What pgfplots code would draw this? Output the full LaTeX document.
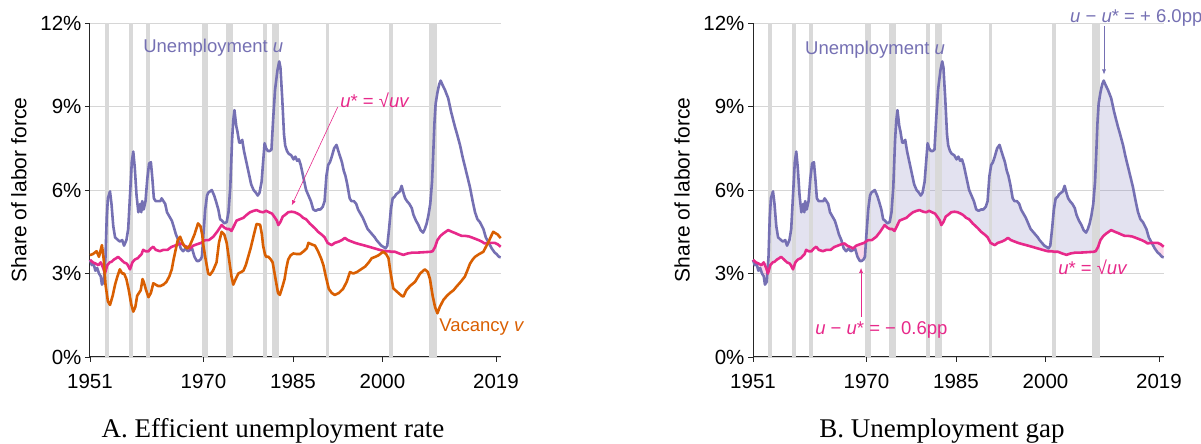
\documentclass[border=0pt]{standalone}
\usepackage{fontspec}
\setmainfont{Liberation Sans}
\newfontfamily\capfont{Liberation Serif}
\usepackage{pgfplots}
\usepackage{pgfplotstable}
\usepgfplotslibrary{fillbetween}
\usetikzlibrary{arrows.meta}
\pgfplotsset{compat=1.18}

\definecolor{upurple}{HTML}{7570B3}
\definecolor{upink}{HTML}{E7298A}
\definecolor{vorange}{HTML}{D95F02}
\definecolor{recess}{HTML}{D9D9D9}

\tikzset{
  ann/.style={anchor=west, inner sep=0pt, font=\fontsize{18.5}{20}\selectfont},
  ser/.style={line width=2.6pt, line join=round},
}

\pgfplotstableread[row sep=\\]{
t y\\
1951.0 3.49\\1951.3 3.3\\1951.6 3.35\\1951.9 3.1\\1952.2 3.2\\1952.5 3.0\\1952.8 2.9\\1953.0 2.6\\1953.3 2.7\\1953.6 3.6\\1953.8 5.0\\1954.0 5.7\\1954.35 5.95\\1954.6 5.5\\1954.9 4.7\\1955.2 4.3\\1955.7 4.2\\1956.0 4.15\\1956.4 4.2\\1956.7 4.0\\1957.1 4.2\\1957.4 4.6\\1957.7 5.8\\1958.0 7.0\\1958.25 7.38\\1958.5 6.8\\1958.8 5.8\\1959.1 5.2\\1959.4 5.5\\1959.6 5.2\\1959.75 5.6\\1960.0 5.3\\1960.3 5.6\\1960.6 6.4\\1960.9 6.95\\1961.2 7.0\\1961.45 6.4\\1961.7 5.7\\1962.0 5.6\\1962.4 5.6\\1962.8 5.6\\1963.0 5.7\\1963.3 5.6\\1963.6 5.5\\1963.9 5.2\\1964.3 5.05\\1964.7 4.9\\1965.0 4.7\\1965.4 4.4\\1965.8 4.2\\1966.2 3.9\\1966.6 3.8\\1967.0 3.9\\1967.4 3.8\\1967.8 3.85\\1968.1 3.9\\1968.5 3.6\\1968.9 3.45\\1969.2 3.45\\1969.5 3.5\\1969.75 3.6\\1970.0 4.4\\1970.3 5.3\\1970.6 5.8\\1970.8 5.9\\1971.1 5.95\\1971.4 6.0\\1971.8 5.8\\1972.1 5.6\\1972.5 5.3\\1972.8 4.95\\1973.1 4.9\\1973.5 4.8\\1973.9 4.85\\1974.2 5.2\\1974.5 6.1\\1974.8 7.8\\1975.0 8.5\\1975.2 8.87\\1975.5 8.3\\1975.7 8.1\\1976.0 7.7\\1976.2 7.7\\1976.5 7.8\\1976.8 7.4\\1977.2 7.0\\1977.6 6.6\\1978.0 6.2\\1978.4 6.0\\1978.8 5.9\\1979.1 5.8\\1979.4 5.9\\1979.75 6.3\\1980.0 7.0\\1980.25 7.68\\1980.5 7.5\\1980.8 7.4\\1981.1 7.4\\1981.4 7.45\\1981.7 8.6\\1982.0 9.6\\1982.4 10.3\\1982.7 10.62\\1982.9 10.4\\1983.2 9.3\\1983.5 8.0\\1983.7 7.6\\1984.0 7.4\\1984.3 7.3\\1984.7 7.25\\1985.1 7.1\\1985.4 7.2\\1985.7 7.05\\1986.0 7.1\\1986.3 6.9\\1986.6 6.6\\1986.9 6.3\\1987.2 6.0\\1987.6 5.8\\1988.0 5.6\\1988.4 5.3\\1988.8 5.25\\1989.2 5.3\\1989.6 5.3\\1990.0 5.4\\1990.3 5.6\\1990.6 6.5\\1990.9 6.9\\1991.2 7.0\\1991.5 7.2\\1991.9 7.5\\1992.3 7.62\\1992.6 7.4\\1992.9 7.2\\1993.2 7.0\\1993.5 6.7\\1993.8 6.5\\1994.1 6.2\\1994.5 5.7\\1994.8 5.6\\1995.2 5.6\\1995.6 5.5\\1995.9 5.3\\1996.3 5.15\\1996.7 5.0\\1997.1 4.8\\1997.5 4.6\\1997.9 4.5\\1998.3 4.4\\1998.7 4.3\\1999.0 4.2\\1999.4 4.1\\1999.8 4.0\\2000.2 3.95\\2000.5 3.9\\2000.8 4.0\\2001.1 4.6\\2001.4 5.3\\2001.7 5.7\\2002.0 5.75\\2002.3 5.85\\2002.6 5.9\\2002.9 5.95\\2003.2 6.15\\2003.5 5.9\\2003.8 5.7\\2004.1 5.6\\2004.5 5.5\\2004.9 5.35\\2005.2 5.1\\2005.6 4.9\\2006.0 4.75\\2006.4 4.55\\2006.8 4.47\\2007.1 4.6\\2007.4 4.8\\2007.7 5.1\\2008.0 5.5\\2008.3 6.3\\2008.5 7.3\\2008.7 8.4\\2008.9 9.1\\2009.2 9.5\\2009.5 9.8\\2009.75 9.93\\2010.0 9.8\\2010.45 9.6\\2011.0 9.3\\2011.5 8.8\\2012.1 8.3\\2012.5 8.0\\2013.0 7.6\\2013.4 7.2\\2013.8 6.85\\2014.2 6.5\\2014.65 6.1\\2015.1 5.6\\2015.5 5.2\\2015.9 4.95\\2016.3 4.85\\2016.9 4.6\\2017.3 4.3\\2017.7 4.14\\2018.3 3.9\\2018.8 3.75\\2019.1 3.7\\2019.5 3.6\\2019.8 3.58\\
}\dataU

\pgfplotstableread[row sep=\\]{
t y\\
1951.0 3.66\\1951.5 3.7\\1952.1 3.8\\1952.5 3.6\\1953.0 4.02\\1953.3 3.5\\1953.6 2.6\\1954.0 2.0\\1954.35 1.87\\1954.8 2.2\\1955.2 2.6\\1955.6 2.9\\1956.0 3.15\\1956.4 3.0\\1956.7 3.0\\1957.1 2.8\\1957.5 2.4\\1957.9 1.9\\1958.25 1.63\\1958.6 1.8\\1958.9 2.2\\1959.2 2.3\\1959.5 2.4\\1959.8 2.8\\1960.0 2.7\\1960.4 2.4\\1960.8 2.15\\1961.2 2.3\\1961.6 2.65\\1962.0 2.6\\1962.4 2.55\\1962.8 2.55\\1963.3 2.6\\1963.8 2.7\\1964.3 2.9\\1964.7 3.15\\1965.0 3.5\\1965.35 3.85\\1965.7 4.2\\1966.1 4.32\\1966.5 4.1\\1966.9 3.96\\1967.3 3.9\\1967.7 4.0\\1968.0 4.14\\1968.5 4.4\\1969.1 4.8\\1969.5 4.7\\1969.8 4.4\\1970.0 4.0\\1970.3 3.6\\1970.8 3.0\\1971.1 2.95\\1971.6 3.1\\1972.2 3.4\\1972.6 4.1\\1973.05 4.5\\1973.5 4.4\\1973.9 4.1\\1974.3 3.5\\1974.7 2.9\\1975.0 2.6\\1975.4 2.8\\1975.85 3.0\\1976.3 3.05\\1976.7 3.1\\1977.1 3.3\\1977.5 3.6\\1977.9 3.9\\1978.35 4.3\\1978.9 4.78\\1979.5 4.75\\1979.8 4.4\\1980.0 4.0\\1980.3 3.7\\1980.5 3.6\\1980.9 3.6\\1981.3 3.5\\1981.6 3.4\\1982.0 2.9\\1982.5 2.3\\1982.8 2.23\\1983.2 2.5\\1983.6 2.8\\1983.9 3.2\\1984.2 3.5\\1984.6 3.65\\1985.05 3.72\\1985.6 3.7\\1986.2 3.7\\1986.8 3.8\\1987.3 3.9\\1987.6 4.1\\1988.1 4.05\\1988.7 4.0\\1989.2 3.8\\1989.7 3.55\\1990.1 3.3\\1990.5 2.9\\1991.0 2.45\\1991.5 2.3\\1992.0 2.23\\1992.7 2.3\\1993.4 2.45\\1994.0 2.7\\1994.55 3.05\\1995.1 3.0\\1995.7 3.05\\1996.4 3.15\\1997.1 3.25\\1997.7 3.4\\1998.2 3.55\\1998.8 3.6\\1999.3 3.65\\2000.1 3.78\\2000.6 3.7\\2001.0 3.55\\2001.3 3.1\\2001.8 2.47\\2002.4 2.35\\2003.2 2.2\\2003.5 2.17\\2004.0 2.4\\2004.6 2.55\\2005.45 2.7\\2006.3 3.0\\2007.1 3.15\\2007.6 3.05\\2007.95 2.8\\2008.4 2.2\\2008.8 1.8\\2009.2 1.57\\2009.6 1.8\\2010.2 2.05\\2010.8 2.2\\2011.3 2.3\\2011.9 2.4\\2012.4 2.53\\2013.1 2.7\\2013.8 2.89\\2014.2 3.1\\2014.65 3.35\\2015.1 3.5\\2015.5 3.6\\2016.2 3.7\\2016.9 3.78\\2017.3 3.95\\2017.7 4.1\\2018.1 4.3\\2018.55 4.5\\2018.9 4.45\\2019.3 4.4\\2019.8 4.27\\
}\dataV

\pgfplotstableread[row sep=\\]{
t y\\
1951.0 3.49\\1951.5 3.4\\1952.0 3.35\\1952.4 3.3\\1952.8 3.4\\1953.2 3.2\\1953.5 3.0\\1953.9 3.3\\1954.3 3.4\\1954.6 3.42\\1955.0 3.5\\1955.4 3.55\\1955.7 3.6\\1956.2 3.5\\1956.7 3.4\\1957.2 3.35\\1957.7 3.15\\1958.1 3.4\\1958.5 3.5\\1959.0 3.55\\1959.65 3.7\\1959.9 3.85\\1960.3 3.8\\1960.8 3.8\\1961.2 3.9\\1961.6 3.96\\1962.0 3.85\\1962.7 3.8\\1963.3 3.85\\1964.0 3.85\\1964.6 3.95\\1965.2 4.0\\1965.8 4.05\\1966.3 4.08\\1966.8 4.0\\1967.3 3.95\\1967.75 3.9\\1968.3 4.0\\1968.9 4.05\\1969.6 4.1\\1970.3 4.2\\1970.9 4.2\\1971.65 4.32\\1972.3 4.5\\1973.05 4.74\\1973.5 4.65\\1973.9 4.6\\1974.3 4.6\\1974.7 4.53\\1975.1 4.7\\1975.55 4.9\\1976.1 4.95\\1976.7 5.0\\1977.2 5.1\\1977.8 5.2\\1978.4 5.25\\1978.9 5.28\\1979.5 5.22\\1980.0 5.2\\1980.5 5.25\\1981.0 5.2\\1981.5 5.15\\1982.0 5.0\\1982.3 4.9\\1982.55 4.74\\1982.9 4.85\\1983.3 5.05\\1983.65 5.1\\1984.2 5.2\\1984.75 5.22\\1985.3 5.2\\1985.8 5.15\\1986.2 5.1\\1986.7 5.0\\1987.2 4.95\\1987.8 4.8\\1988.3 4.7\\1988.7 4.62\\1989.2 4.5\\1989.8 4.4\\1990.3 4.3\\1990.8 4.1\\1991.2 4.05\\1991.5 4.02\\1992.0 4.1\\1992.7 4.15\\1993.2 4.2\\1993.7 4.28\\1994.2 4.2\\1994.8 4.15\\1995.4 4.1\\1996.2 4.05\\1997.1 4.0\\1997.9 3.95\\1998.7 3.9\\1999.5 3.85\\2000.4 3.8\\2001.0 3.8\\2001.5 3.78\\2002.1 3.78\\2002.8 3.72\\2003.5 3.67\\2004.2 3.72\\2005.0 3.75\\2005.8 3.75\\2006.6 3.76\\2007.3 3.77\\2008.0 3.78\\2008.4 3.8\\2008.8 3.95\\2009.2 4.2\\2009.7 4.35\\2010.2 4.44\\2010.6 4.5\\2011.0 4.56\\2011.6 4.5\\2012.2 4.45\\2012.7 4.4\\2013.3 4.35\\2013.9 4.35\\2014.5 4.33\\2014.9 4.3\\2015.5 4.25\\2016.1 4.2\\2016.6 4.15\\2017.1 4.08\\2017.7 4.1\\2018.3 4.1\\2018.8 4.1\\2019.3 4.05\\2019.8 3.96\\
}\dataS

\newcommand{\recessions}{%
\addplot[fill=recess, draw=none, forget plot] coordinates {(1953.5,12) (1954.2,12)} \closedcycle;
\addplot[fill=recess, draw=none, forget plot] coordinates {(1957.6,12) (1958.25,12)} \closedcycle;
\addplot[fill=recess, draw=none, forget plot] coordinates {(1960.3,12) (1961.05,12)} \closedcycle;
\addplot[fill=recess, draw=none, forget plot] coordinates {(1969.8,12) (1970.7,12)} \closedcycle;
\addplot[fill=recess, draw=none, forget plot] coordinates {(1973.8,12) (1974.9,12)} \closedcycle;
\addplot[fill=recess, draw=none, forget plot] coordinates {(1980.0,12) (1980.6,12)} \closedcycle;
\addplot[fill=recess, draw=none, forget plot] coordinates {(1981.55,12) (1982.7,12)} \closedcycle;
\addplot[fill=recess, draw=none, forget plot] coordinates {(1990.5,12) (1991.0,12)} \closedcycle;
\addplot[fill=recess, draw=none, forget plot] coordinates {(2001.1,12) (2001.7,12)} \closedcycle;
\addplot[fill=recess, draw=none, forget plot] coordinates {(2007.8,12) (2009.2,12)} \closedcycle;
}

\pgfplotsset{panel/.style={
  scale only axis, width=410.7pt, height=334pt,
  xmin=1951, xmax=2019.8, ymin=0, ymax=12,
  axis lines=left, axis line style={-, line width=1pt, draw=black!85},
  xtick={1951,1970,1985,2000,2019},
  ytick={0,3,6,9,12},
  /pgf/number format/1000 sep={},
  /pgf/number format/assume math mode=true,
  yticklabel={\pgfmathprintnumber{\tick}\%},
  tick align=outside, major tick length=5pt,
  tick style={black!85, line width=0.8pt},
  ymajorgrids, grid style={draw=black!16, line width=0.8pt},
  ticklabel style={font=\fontsize{20.5}{22}\selectfont},
  xticklabel style={yshift=-9pt},
  ylabel={Share of labor force},
  ylabel style={at={(axis description cs:-0.1729,0.5)}, anchor=center, font=\fontsize{21}{23}\selectfont},
  clip=false,
}}

\begin{document}
\begin{tikzpicture}

% Panel A
\begin{axis}[panel, at={(90pt,87pt)}, anchor=south west]
\recessions
\addplot[ser, upurple] table[x=t, y=y] {\dataU};
\addplot[ser, upink] table[x=t, y=y] {\dataS};
\addplot[ser, vorange] table[x=t, y=y] {\dataV};
\node[ann, text=upurple] at (axis cs:1959.9,11.1) {Unemployment \textit{u}};
\node[ann, text=upink] at (axis cs:1992.9,9.23) {\textit{u}* = √\textit{uv}};
\draw[-{Latex[length=5pt,width=4pt]}, upink, line width=0.6pt] (axis cs:1992.5,8.98) -- (axis cs:1984.8,5.45);
\node[ann, text=vorange] at (axis cs:2009.5,1.08) {Vacancy \textit{v}};
\end{axis}

% Panel B
\begin{axis}[panel, at={(753pt,87pt)}, anchor=south west]
\recessions
\addplot[draw=none, name path=U, forget plot] table[x=t, y=y] {\dataU};
\addplot[draw=none, name path=S, forget plot] table[x=t, y=y] {\dataS};
\addplot[fill=upurple, fill opacity=0.2, draw=none] fill between[of=U and S, soft clip={domain=1953.55:1966.0}];
\addplot[fill=upurple, fill opacity=0.2, draw=none] fill between[of=U and S, soft clip={domain=1969.9:2017.8}];
\addplot[fill=upink, fill opacity=0.18, draw=none] fill between[of=U and S, soft clip={domain=1951:1953.55}];
\addplot[fill=upink, fill opacity=0.18, draw=none] fill between[of=U and S, soft clip={domain=1966.0:1969.9}];
\addplot[fill=upink, fill opacity=0.18, draw=none] fill between[of=U and S, soft clip={domain=2017.8:2019.8}];
\addplot[ser, upurple] table[x=t, y=y] {\dataU};
\addplot[ser, upink] table[x=t, y=y] {\dataS};
\node[ann, text=upurple] at (axis cs:1959.7,11.05) {Unemployment \textit{u}};
\node[ann, text=upurple] at (axis cs:2004.1,12.18) {\textit{u} − \textit{u}* = + 6.0pp};
\draw[-{Latex[length=5pt,width=4pt]}, upurple, line width=0.6pt] (axis cs:2009.8,11.9) -- (axis cs:2009.8,10.15);
\node[ann, text=upink] at (axis cs:1961.4,0.97) {\textit{u} − \textit{u}* = − 0.6pp};
\draw[-{Latex[length=5pt,width=4pt]}, upink, line width=0.6pt] (axis cs:1969.1,1.44) -- (axis cs:1969.1,3.2);
\node[ann, text=upink] at (axis cs:2002.1,3.23) {\textit{u}* = √\textit{uv}};
\end{axis}

\node[font=\capfont\fontsize{27}{29}\selectfont, anchor=base] at (273pt,6pt) {A. Efficient unemployment rate};
\node[font=\capfont\fontsize{27}{29}\selectfont, anchor=base] at (942pt,6pt) {B. Unemployment gap};
\pgfresetboundingbox
\useasboundingbox (0,0) rectangle (1201pt,444pt);
\end{tikzpicture}
\end{document}
